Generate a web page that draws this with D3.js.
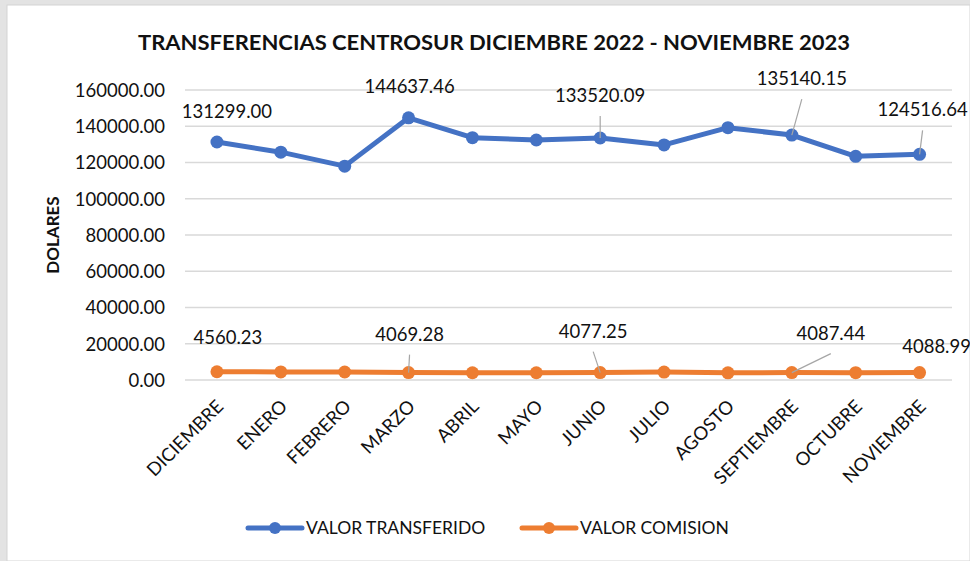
<!DOCTYPE html>
<html>
<head>
<meta charset="utf-8">
<title>Transferencias Centrosur</title>
<script src="https://cdn.jsdelivr.net/npm/d3@7"></script>
<style>
  body { margin: 0; background: #e3e3e3; }
  svg text { font-family: Lato, "Open Sans", sans-serif; fill: #111; }
  .grid line { stroke: #d9d9d9; stroke-width: 1.5; }
  .leader { stroke: #a6a6a6; stroke-width: 1.2; }
</style>
</head>
<body>
<div id="grafico"></div>
<script>
// datos
var meses = ["DICIEMBRE", "ENERO", "FEBRERO", "MARZO", "ABRIL", "MAYO", "JUNIO",
             "JULIO", "AGOSTO", "SEPTIEMBRE", "OCTUBRE", "NOVIEMBRE"];
var valorTransferido = [131299.00, 125700, 118000, 144637.46, 133700, 132400, 133520.09,
                        129700, 139200, 135140.15, 123400, 124516.64];
var valorComision = [4560.23, 4480, 4410, 4069.28, 4000, 3990, 4077.25,
                     4350, 3980, 4087.44, 4030, 4088.99];
var ticksY = [0, 20000, 40000, 60000, 80000, 100000, 120000, 140000, 160000];
// etiquetas visibles: indice del mes y desplazamiento del texto respecto al punto
var etiquetasTransf = [
  {i: 0, dx: 10, dy: -24, lider: false},
  {i: 3, dx: 1, dy: -25, lider: false},
  {i: 6, dx: 0, dy: -36, lider: true},
  {i: 9, dx: 10, dy: -50, lider: true},
  {i: 11, dx: 3, dy: -38, lider: true}
];
var etiquetasCom = [
  {i: 0, dx: 11, dy: -28, lider: false},
  {i: 3, dx: 1, dy: -32, lider: true},
  {i: 6, dx: -7, dy: -35, lider: true},
  {i: 9, dx: 39, dy: -33, lider: true},
  {i: 11, dx: 17, dy: -20, lider: false}
];

var W = 970, H = 561;
var margin = {top: 90, right: 18, bottom: 181, left: 185};

var svg = d3.select("#grafico").append("svg")
    .attr("width", W).attr("height", H)
    .style("display", "block");

// fondo gris y recuadro blanco del grafico
svg.append("rect").attr("x", 0).attr("y", 0).attr("width", W).attr("height", H).attr("fill", "#e3e3e3");
svg.append("rect").attr("x", 7).attr("y", 5).attr("width", W - 7).attr("height", H - 5)
    .attr("fill", "#fff").attr("stroke", "#d4d4d4").attr("stroke-width", 1);

var x = d3.scaleBand().domain(meses)
    .range([margin.left, W - margin.right - 0.5]);
var cx = function(m) { return x(m) + x.bandwidth() / 2; };

var y = d3.scaleLinear().domain([0, 160000])
    .range([H - margin.bottom, margin.top]);

// titulo
svg.append("text")
    .attr("x", 494).attr("y", 50)
    .attr("text-anchor", "middle")
    .attr("font-weight", "bold")
    .attr("font-size", 21)
    .attr("textLength", 712)
    .attr("lengthAdjust", "spacingAndGlyphs")
    .text("TRANSFERENCIAS CENTROSUR DICIEMBRE 2022 - NOVIEMBRE 2023");

// lineas de cuadricula
svg.append("g").attr("class", "grid")
  .selectAll("line").data(ticksY).enter().append("line")
    .attr("x1", margin.left).attr("x2", W - margin.right)
    .attr("y1", d => y(d)).attr("y2", d => y(d));

// eje Y
var ejeY = svg.append("g")
    .attr("transform", "translate(" + (margin.left - 20) + ",0)")
    .call(d3.axisLeft(y).tickValues(ticksY).tickFormat(d3.format(".2f")).tickSize(0).tickPadding(0));
ejeY.select(".domain").remove();
ejeY.selectAll("text").attr("font-size", 18.5).attr("dy", "0.35em")
    .style("font-family", "Lato, sans-serif").attr("fill", "#111");

svg.append("text")
    .attr("transform", "translate(59,235) rotate(-90)")
    .attr("text-anchor", "middle")
    .attr("font-weight", "bold")
    .attr("font-size", 17)
    .text("DOLARES");

// eje X (etiquetas rotadas)
var ejeX = svg.append("g")
    .attr("transform", "translate(0," + (H - margin.bottom) + ")")
    .call(d3.axisBottom(x).tickSize(0).tickPadding(0));
ejeX.select(".domain").remove();
ejeX.selectAll("text")
    .attr("font-size", 18.5)
    .style("font-family", "Lato, sans-serif").attr("fill", "#111")
    .attr("text-anchor", "end")
    .attr("dy", "0.35em")
    .attr("transform", "translate(3,23) rotate(-45)");

// series
var series = [
  {nombre: "VALOR TRANSFERIDO", valores: valorTransferido, color: "#4472C4", etiquetas: etiquetasTransf},
  {nombre: "VALOR COMISION", valores: valorComision, color: "#ED7D31", etiquetas: etiquetasCom}
];

var linea = d3.line().x((d, i) => cx(meses[i])).y(d => y(d));

series.forEach(function(s) {
  svg.append("path")
      .datum(s.valores)
      .attr("d", linea)
      .attr("fill", "none")
      .attr("stroke", s.color)
      .attr("stroke-width", 5)
      .attr("stroke-linejoin", "round");
  svg.append("g").selectAll("circle").data(s.valores).enter().append("circle")
      .attr("cx", (d, i) => cx(meses[i]))
      .attr("cy", d => y(d))
      .attr("r", 6.5)
      .attr("fill", s.color);

  s.etiquetas.forEach(function(e) {
    var px = cx(meses[e.i]), py = y(s.valores[e.i]);
    var tx = px + e.dx, ty = py + e.dy;
    if (e.lider) {
      svg.append("line").attr("class", "leader")
          .attr("x1", px).attr("y1", py)
          .attr("x2", tx).attr("y2", ty + 14);
    }
    svg.append("text")
        .attr("x", tx).attr("y", ty)
        .attr("text-anchor", "middle")
        .attr("font-size", 18.5)
        .text(d3.format(".2f")(s.valores[e.i]));
  });
});

// leyenda
var leyenda = svg.append("g").attr("transform", "translate(248,528)");
var posLeyenda = [0, 274];
series.forEach(function(s, k) {
  var g = leyenda.append("g").attr("transform", "translate(" + posLeyenda[k] + ",0)");
  g.append("line").attr("x1", 0).attr("x2", 54).attr("y1", 0).attr("y2", 0)
      .attr("stroke", s.color).attr("stroke-width", 5).attr("stroke-linecap", "round");
  g.append("circle").attr("cx", 27).attr("cy", 0).attr("r", 6).attr("fill", s.color);
  g.append("text").attr("x", 58).attr("y", 0).attr("dy", "0.35em")
      .attr("font-size", 17.5).text(s.nombre);
});
</script>
</body>
</html>
